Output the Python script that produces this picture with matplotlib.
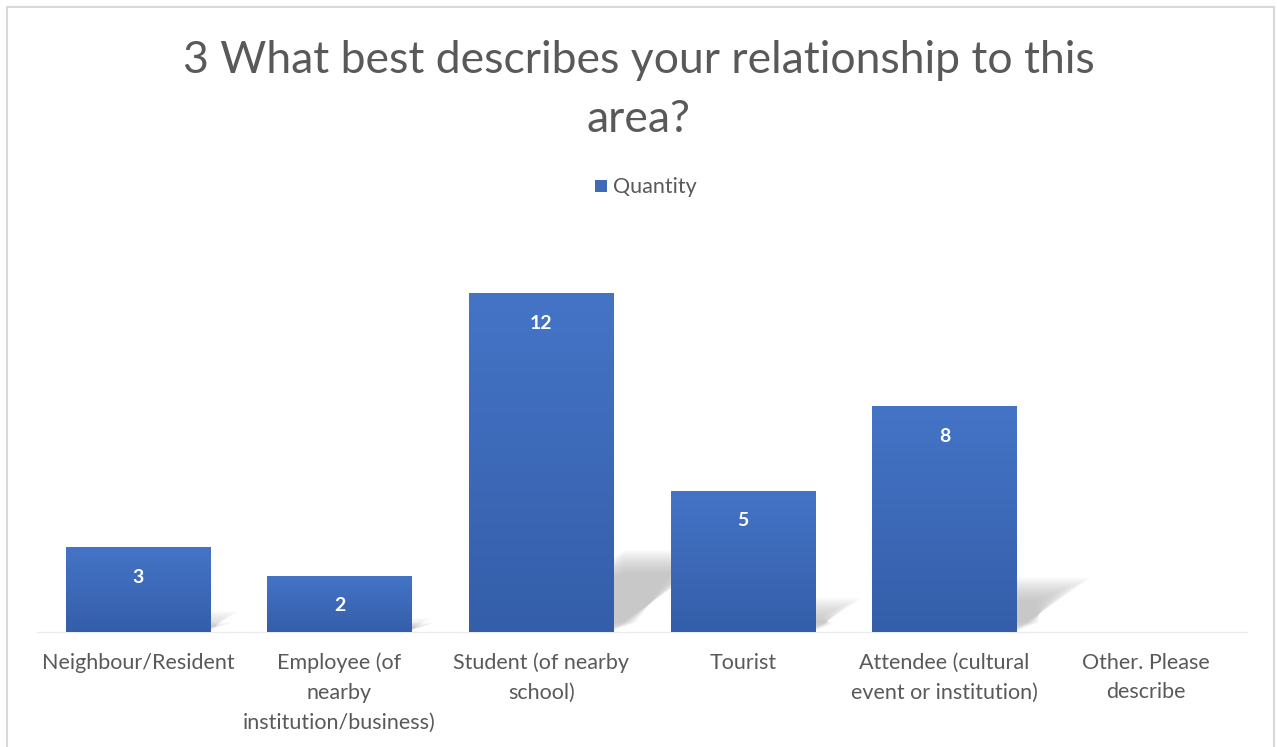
import numpy as np
import matplotlib
matplotlib.use("Agg")
import matplotlib.pyplot as plt
from matplotlib.patches import Polygon, Rectangle
from matplotlib.colors import LinearSegmentedColormap

# данные
categories = ["Neighbour/Resident", "Employee (of\nnearby\ninstitution/business)",
              "Student (of nearby\nschool)", "Tourist",
              "Attendee (cultural\nevent or institution)", "Other. Please\ndescribe"]
quantity = [3, 2, 12, 5, 8, 0]
title = "3 What best describes your relationship to this\narea?"

plt.rcParams['font.family'] = ['Lato', 'DejaVu Sans']
grey_txt = "#595959"

fig = plt.figure(figsize=(12.77, 7.47), dpi=100)
W, H = 1277, 747
ax = fig.add_axes([37 / W, (H - 632) / H, (1247 - 37) / W, (632 - 237) / H])

x = np.arange(len(categories))
bars = ax.bar(x, quantity, width=0.715, color="none", zorder=3)

ax.set_xlim(-0.5, len(categories) - 0.5)
ax.set_ylim(0, 14)

# градиент для столбцов
cmap = LinearSegmentedColormap.from_list("bar", ["#345ea9", "#4574c7"])
grad = np.linspace(0, 1, 256).reshape(-1, 1)
for b in bars:
    h = b.get_height()
    if h <= 0:
        continue
    x0, w = b.get_x(), b.get_width()
    im = ax.imshow(grad, cmap=cmap, aspect="auto", origin="lower",
                   extent=[x0, x0 + w, 0, h], zorder=3)
    im.set_clip_path(b)

    # тень (перспектива вправо-вверх), размытая слоями
    dx = 0.046 * h
    sh = 0.24 * h
    for k in range(12):
        shrink = k * 0.006
        pts = [(x0 + w * 0.3, 0 + shrink * 5),
               (x0 + w + shrink * 2 - 0.02, 0 + shrink * 5),
               (x0 + w + dx - shrink * 4, sh - shrink * 12),
               (x0 + w * 0.3 + dx, sh - shrink * 12)]
        ax.add_patch(Polygon(pts, closed=True, facecolor="#a8a8a8",
                             edgecolor="none", alpha=0.07, zorder=2))

    ax.annotate(str(int(h)), (b.get_x() + w / 2, h), xytext=(0, -30),
                textcoords="offset pixels", ha="center", va="center",
                color="white", fontsize=14, fontweight="bold", zorder=5)

ax.set_xticks(x)
ax.set_xticklabels(categories, fontsize=15.5, color=grey_txt, linespacing=1.6)
ax.tick_params(axis="x", length=0, pad=15)
ax.set_yticks([])
for s in ["top", "right", "left"]:
    ax.spines[s].set_visible(False)
ax.spines["bottom"].set_color("#ececec")
ax.spines["bottom"].set_linewidth(1)

# заголовок
fig.text(0.5, (H - 90) / H, title, ha="center", va="center",
         fontsize=32, color=grey_txt, linespacing=1.55)

# легенда
fig.patches.append(Rectangle((595 / W, (H - 192) / H), 12 / W, 12 / H,
                             transform=fig.transFigure, facecolor="#4069b8",
                             edgecolor="none"))
fig.text(613 / W, (H - 187) / H, "Quantity", ha="left", va="center",
         fontsize=15.5, color=grey_txt)

# рамка
fig.patches.append(Rectangle((7 / W, -0.05), (1274 - 7) / W, (740 / H) + 0.05,
                             transform=fig.transFigure, facecolor="none",
                             edgecolor="#d9d9d9", linewidth=1.5))

fig.savefig("out.png", dpi=100)
